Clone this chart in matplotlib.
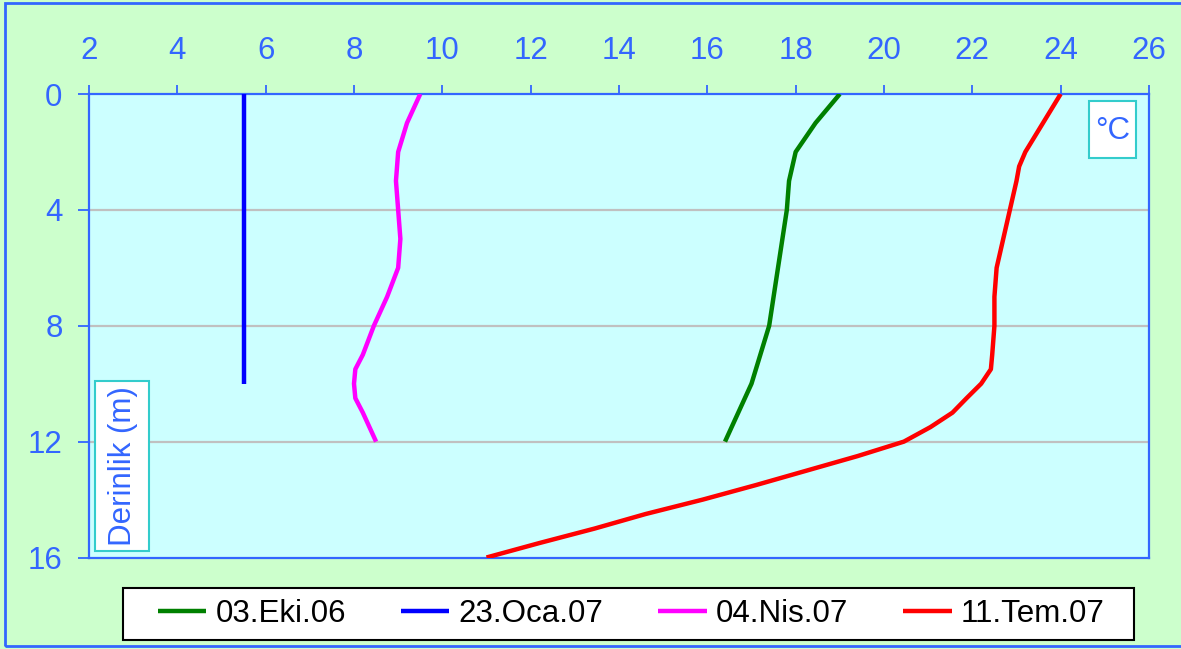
import matplotlib
matplotlib.use("Agg")
import matplotlib.pyplot as plt
from matplotlib.patches import Rectangle
from matplotlib.lines import Line2D

plt.rcParams['font.family'] = ['Liberation Sans', 'DejaVu Sans']

# Temperature profiles (°C) against depth (m)
depth_eki = [0, 1, 2, 3, 4, 5, 6, 7, 8, 9, 10, 11, 12]
temp_eki = [19.0, 18.45, 18.0, 17.85, 17.8, 17.7, 17.6, 17.5, 17.4, 17.2, 17.0, 16.7, 16.4]

depth_oca = [0, 1, 2, 3, 4, 5, 6, 7, 8, 9, 10]
temp_oca = [5.5, 5.5, 5.5, 5.5, 5.5, 5.5, 5.5, 5.5, 5.5, 5.5, 5.5]

depth_nis = [0, 1, 2, 3, 4, 5, 6, 7, 8, 9, 9.5, 10, 10.5, 11, 12]
temp_nis = [9.5, 9.2, 9.0, 8.95, 9.0, 9.05, 9.0, 8.75, 8.45, 8.2, 8.03, 8.0, 8.03, 8.2, 8.5]

depth_tem = [0, 1, 2, 2.5, 3, 4, 5, 6, 7, 8, 9, 9.5, 10, 10.5, 11, 11.5, 12,
             12.5, 13, 13.5, 14, 14.5, 15, 15.5, 16]
temp_tem = [24.0, 23.6, 23.2, 23.06, 23.0, 22.85, 22.7, 22.55, 22.5, 22.5, 22.45,
            22.42, 22.2, 21.87, 21.55, 21.05, 20.45, 19.4, 18.25, 17.1, 15.9,
            14.6, 13.45, 12.2, 11.0]

series_labels = ['03.Eki.06', '23.Oca.07', '04.Nis.07', '11.Tem.07']
series_colors = ['#008000', '#0000FF', '#FF00FF', '#FF0000']

x_ticks = [2, 4, 6, 8, 10, 12, 14, 16, 18, 20, 22, 24, 26]
y_ticks = [0, 4, 8, 12, 16]

W, H = 1181, 649
AXIS_BLUE = '#3366FF'
BOX_EDGE = '#33CCCC'
FS = 22.5

fig = plt.figure(figsize=(W / 100, H / 100), dpi=100)
fig.patch.set_facecolor('#CCFFCC')

# outer frame of the chart area
fig.patches.append(Rectangle((5 / W, 1 - 646 / H), 1.2, (646 - 3) / H,
                             transform=fig.transFigure, fill=False,
                             edgecolor=AXIS_BLUE, linewidth=2.0, zorder=0))

ax = fig.add_axes([89 / W, 1 - 557.5 / H, (1149 - 89) / W, (557.5 - 94) / H])
ax.set_facecolor('#CCFFFF')

series = [(temp_eki, depth_eki), (temp_oca, depth_oca),
          (temp_nis, depth_nis), (temp_tem, depth_tem)]
for (t, d), lab, col in zip(series, series_labels, series_colors):
    ax.plot(t, d, color=col, lw=3.2, label=lab, solid_capstyle='butt', zorder=3)

ax.set_xlim(2, 26)
ax.set_ylim(16, 0)
ax.set_xticks(x_ticks)
ax.set_yticks(y_ticks)

ax.xaxis.tick_top()
ax.tick_params(axis='x', direction='out', length=6.5, width=1.3, color=AXIS_BLUE,
               labelcolor=AXIS_BLUE, labelsize=FS, pad=14)
ax.tick_params(axis='y', direction='out', length=8, width=1.3, color=AXIS_BLUE,
               labelcolor=AXIS_BLUE, labelsize=FS, pad=11)

for sp in ax.spines.values():
    sp.set_color(AXIS_BLUE)
    sp.set_linewidth(1.6)

for g in [4, 8, 12]:
    ax.axhline(g, color='#C0C0C0', lw=1.6, zorder=1)

# depth label in a boxed rotated title inside the plot
fig.patches.append(Rectangle((95 / W, 1 - 551 / H), (149 - 95) / W, (551 - 381) / H,
                             transform=fig.transFigure, facecolor='white',
                             edgecolor=BOX_EDGE, linewidth=1.5, zorder=4))
fig.text(123 / W, 1 - 466 / H, 'Derinlik (m)', rotation=90, ha='center',
         va='center', fontsize=FS, color=AXIS_BLUE, zorder=5)

# unit label
fig.patches.append(Rectangle((1089 / W, 1 - 158 / H), (1136 - 1089) / W, (158 - 101) / H,
                             transform=fig.transFigure, facecolor='white',
                             edgecolor=BOX_EDGE, linewidth=1.5, zorder=4))
fig.text(1112.5 / W, 1 - 131 / H, '°C', ha='center', va='center',
         fontsize=FS, color=AXIS_BLUE, zorder=5)

# legend box
fig.patches.append(Rectangle((123 / W, 1 - 640 / H), (1134 - 123) / W, (640 - 588) / H,
                             transform=fig.transFigure, facecolor='white',
                             edgecolor='black', linewidth=1.5, zorder=4))
handles = [Line2D([], [], color=c, lw=3.2, solid_capstyle='butt') for c in series_colors]
leg = fig.legend(handles, series_labels, loc='center left', ncol=4,
                 bbox_to_anchor=(158 / W, 1 - 614 / H), frameon=False,
                 fontsize=FS, borderpad=0, borderaxespad=0,
                 handlelength=1.55, handletextpad=0.3, columnspacing=1.75)
leg.set_zorder(6)

fig.savefig('out.png', dpi=100, facecolor=fig.get_facecolor())
